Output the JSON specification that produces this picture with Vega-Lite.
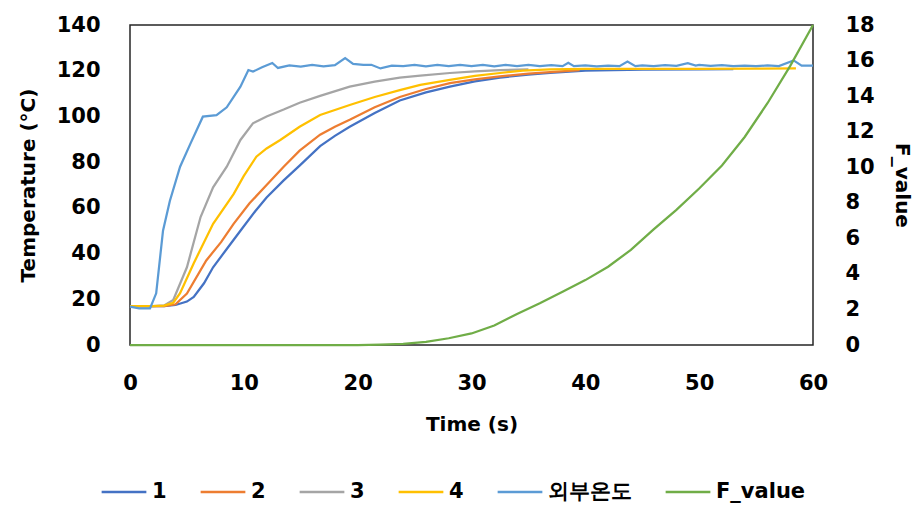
{
"$schema":"https://vega.github.io/schema/vega-lite/v6.json",
"width":683,"height":320,
"autosize":{"type":"none"},
"padding":{"left":130,"top":25,"right":106,"bottom":166},
"background":"white",
"config":{"view":{"stroke":"#262626","strokeWidth":1.5},"font":"DejaVu Sans"},
"data":{"values":[
{"t":0,"s":"1","v":17},{"t":1,"s":"1","v":17},{"t":2,"s":"1","v":17},{"t":3,"s":"1","v":17},{"t":4,"s":"1","v":17.5},{"t":5,"s":"1","v":19},{"t":5.6,"s":"1","v":21},{"t":6.5,"s":"1","v":27},{"t":7.3,"s":"1","v":34},{"t":8.5,"s":"1","v":42},{"t":9.7,"s":"1","v":50},{"t":11,"s":"1","v":58.5},{"t":12,"s":"1","v":64.5},{"t":13.5,"s":"1","v":72},{"t":14.9,"s":"1","v":78.5},{"t":16.7,"s":"1","v":87},{"t":18,"s":"1","v":91.5},{"t":19.3,"s":"1","v":95.5},{"t":21.5,"s":"1","v":101.5},{"t":23.7,"s":"1","v":107},{"t":26,"s":"1","v":110.5},{"t":28.1,"s":"1","v":113},{"t":30.3,"s":"1","v":115.3},{"t":32.5,"s":"1","v":117},{"t":35,"s":"1","v":118.3},{"t":36.9,"s":"1","v":119},{"t":40,"s":"1","v":120},{"t":45,"s":"1","v":120.5},{"t":50,"s":"1","v":120.6},{"t":53,"s":"1","v":120.7},
{"t":0,"s":"2","v":17},{"t":1,"s":"2","v":17},{"t":2,"s":"2","v":17},{"t":3,"s":"2","v":17},{"t":4,"s":"2","v":17.8},{"t":5,"s":"2","v":22.5},{"t":6.7,"s":"2","v":37},{"t":8,"s":"2","v":45},{"t":9.1,"s":"2","v":53},{"t":10.5,"s":"2","v":62},{"t":12,"s":"2","v":70},{"t":13.5,"s":"2","v":78},{"t":14.9,"s":"2","v":85},{"t":16.7,"s":"2","v":92},{"t":18,"s":"2","v":95.5},{"t":19.3,"s":"2","v":98.5},{"t":21.5,"s":"2","v":104},{"t":23.7,"s":"2","v":108.5},{"t":26,"s":"2","v":112},{"t":28.1,"s":"2","v":114.6},{"t":30.3,"s":"2","v":116.2},{"t":32.5,"s":"2","v":117.5},{"t":35,"s":"2","v":118.7},{"t":36.9,"s":"2","v":119.4},{"t":39.5,"s":"2","v":120.3},
{"t":0,"s":"3","v":17},{"t":1,"s":"3","v":17},{"t":2,"s":"3","v":17},{"t":3,"s":"3","v":17.3},{"t":3.8,"s":"3","v":19.7},{"t":5,"s":"3","v":34},{"t":6.2,"s":"3","v":56},{"t":7.3,"s":"3","v":69},{"t":8.5,"s":"3","v":78},{"t":9.7,"s":"3","v":89.7},{"t":10.8,"s":"3","v":97},{"t":12,"s":"3","v":100},{"t":13.5,"s":"3","v":103},{"t":14.9,"s":"3","v":106},{"t":16.7,"s":"3","v":109},{"t":19.3,"s":"3","v":113},{"t":21.5,"s":"3","v":115.2},{"t":23.7,"s":"3","v":117},{"t":25.5,"s":"3","v":117.8},{"t":28.1,"s":"3","v":119},{"t":30.3,"s":"3","v":119.7},{"t":32.5,"s":"3","v":120.3},{"t":35,"s":"3","v":120.6},
{"t":0,"s":"4","v":17},{"t":1,"s":"4","v":17},{"t":2,"s":"4","v":17},{"t":3,"s":"4","v":17.2},{"t":3.8,"s":"4","v":18.5},{"t":4.4,"s":"4","v":22.7},{"t":5.6,"s":"4","v":35.8},{"t":7.3,"s":"4","v":53},{"t":9.1,"s":"4","v":66},{"t":10,"s":"4","v":74},{"t":11.1,"s":"4","v":82.4},{"t":12,"s":"4","v":86},{"t":13.2,"s":"4","v":89.7},{"t":14.9,"s":"4","v":95.5},{"t":16.7,"s":"4","v":100.6},{"t":19.3,"s":"4","v":105},{"t":21.5,"s":"4","v":108.5},{"t":23.7,"s":"4","v":111.5},{"t":25.5,"s":"4","v":113.8},{"t":28.1,"s":"4","v":116},{"t":30.3,"s":"4","v":117.7},{"t":32.5,"s":"4","v":119},{"t":34.5,"s":"4","v":120},{"t":36.9,"s":"4","v":120.6},{"t":40,"s":"4","v":120.8},{"t":45,"s":"4","v":120.8},{"t":50,"s":"4","v":120.8},{"t":55,"s":"4","v":120.9},{"t":58.5,"s":"4","v":121},
{"t":0,"s":"외부온도","v":16.8},{"t":0.8,"s":"외부온도","v":16},{"t":1.76,"s":"외부온도","v":16},{"t":2.3,"s":"외부온도","v":22.6},{"t":2.9,"s":"외부온도","v":50},{"t":3.5,"s":"외부온도","v":63},{"t":4.4,"s":"외부온도","v":78},{"t":5.3,"s":"외부온도","v":88},{"t":6.4,"s":"외부온도","v":99.9},{"t":7.6,"s":"외부온도","v":100.6},{"t":8.5,"s":"외부온도","v":104},{"t":9.7,"s":"외부온도","v":113},{"t":10.4,"s":"외부온도","v":120.3},{"t":10.8,"s":"외부온도","v":119.6},{"t":11.6,"s":"외부온도","v":121.5},{"t":12.5,"s":"외부온도","v":123.4},{"t":13,"s":"외부온도","v":121.2},{"t":14,"s":"외부온도","v":122.3},{"t":15,"s":"외부온도","v":121.8},{"t":16,"s":"외부온도","v":122.5},{"t":17,"s":"외부온도","v":121.9},{"t":18,"s":"외부온도","v":122.4},{"t":18.9,"s":"외부온도","v":125.5},{"t":19.6,"s":"외부온도","v":123},{"t":20.5,"s":"외부온도","v":122.6},{"t":21.2,"s":"외부온도","v":122.6},{"t":22,"s":"외부온도","v":121},{"t":23,"s":"외부온도","v":122.2},{"t":24,"s":"외부온도","v":122},{"t":25,"s":"외부온도","v":122.6},{"t":26,"s":"외부온도","v":121.9},{"t":27,"s":"외부온도","v":122.5},{"t":28,"s":"외부온도","v":122},{"t":29,"s":"외부온도","v":122.6},{"t":30,"s":"외부온도","v":122},{"t":31,"s":"외부온도","v":122.5},{"t":32,"s":"외부온도","v":121.9},{"t":33,"s":"외부온도","v":122.5},{"t":34,"s":"외부온도","v":122},{"t":35,"s":"외부온도","v":122.5},{"t":36,"s":"외부온도","v":122},{"t":37,"s":"외부온도","v":122.4},{"t":38,"s":"외부온도","v":122},{"t":38.5,"s":"외부온도","v":123.5},{"t":39,"s":"외부온도","v":122},{"t":40,"s":"외부온도","v":122.3},{"t":41,"s":"외부온도","v":121.9},{"t":42,"s":"외부온도","v":122.2},{"t":43,"s":"외부온도","v":122},{"t":43.7,"s":"외부온도","v":124},{"t":44.4,"s":"외부온도","v":122},{"t":45,"s":"외부온도","v":122.3},{"t":46,"s":"외부온도","v":122},{"t":47,"s":"외부온도","v":122.4},{"t":48,"s":"외부온도","v":122.1},{"t":49,"s":"외부온도","v":123.3},{"t":49.7,"s":"외부온도","v":122.2},{"t":50,"s":"외부온도","v":122.5},{"t":51,"s":"외부온도","v":122.1},{"t":52,"s":"외부온도","v":122.4},{"t":53,"s":"외부온도","v":122},{"t":54,"s":"외부온도","v":122.2},{"t":55,"s":"외부온도","v":122},{"t":56,"s":"외부온도","v":122.3},{"t":57,"s":"외부온도","v":122},{"t":58.3,"s":"외부온도","v":124.5},{"t":59,"s":"외부온도","v":122.2},{"t":60,"s":"외부온도","v":122.2},
{"t":0,"s":"F_value","v":0},{"t":20,"s":"F_value","v":0},{"t":22,"s":"F_value","v":0.02},{"t":24,"s":"F_value","v":0.06},{"t":26,"s":"F_value","v":0.18},{"t":28,"s":"F_value","v":0.38},{"t":30,"s":"F_value","v":0.65},{"t":32,"s":"F_value","v":1.1},{"t":34,"s":"F_value","v":1.75},{"t":36,"s":"F_value","v":2.35},{"t":38,"s":"F_value","v":3.0},{"t":40,"s":"F_value","v":3.65},{"t":42,"s":"F_value","v":4.4},{"t":44,"s":"F_value","v":5.35},{"t":46,"s":"F_value","v":6.5},{"t":48,"s":"F_value","v":7.6},{"t":50,"s":"F_value","v":8.8},{"t":52,"s":"F_value","v":10.1},{"t":54,"s":"F_value","v":11.7},{"t":56,"s":"F_value","v":13.6},{"t":58,"s":"F_value","v":15.7},{"t":60,"s":"F_value","v":18}
]},
"encoding":{
 "x":{"field":"t","type":"quantitative","scale":{"domain":[0,60],"nice":false},
  "axis":{"title":"Time (s)","values":[0,10,20,30,40,50,60],"grid":false,"domain":false,"ticks":false,"tickSize":0,"labelPadding":27,"labelFlush":false,"labelOverlap":false,"labelFontSize":21,"labelFontWeight":"bold","labelColor":"#000","titleFontSize":20,"titleFontWeight":"bold","titleColor":"#000","titlePadding":21}},
 "color":{"field":"s","type":"nominal",
  "scale":{"domain":["1","2","3","4","외부온도","F_value"],"range":["#4472C4","#ED7D31","#A5A5A5","#FFC000","#5B9BD5","#70AD47"]},
  "legend":{"orient":"none","legendX":-30,"legendY":443,"direction":"horizontal","title":null,"symbolType":"stroke","symbolSize":2000,"symbolStrokeWidth":2.5,"labelFontSize":21,"labelFontWeight":"bold","labelColor":"#000","columnPadding":28,"labelOffset":4}}
},
"layer":[
 {"transform":[{"filter":"datum.s !== 'F_value'"}],
  "mark":{"type":"line","strokeWidth":2.25},
  "encoding":{"y":{"field":"v","type":"quantitative","scale":{"domain":[0,140],"nice":false},
   "axis":{"title":"Temperature (°C)","values":[0,20,40,60,80,100,120,140],"grid":false,"domain":false,"ticks":false,"tickSize":0,"labelPadding":30,"labelFlush":false,"labelOverlap":false,"labelFontSize":21,"labelFontWeight":"bold","labelColor":"#000","titleFontSize":20,"titleFontWeight":"bold","titleColor":"#000","titlePadding":18}}}},
 {"transform":[{"filter":"datum.s === 'F_value'"}],
  "mark":{"type":"line","strokeWidth":2.25},
  "encoding":{"y":{"field":"v","type":"quantitative","scale":{"domain":[0,18],"nice":false},
   "axis":{"orient":"right","title":"F_value","values":[0,2,4,6,8,10,12,14,16,18],"grid":false,"domain":false,"ticks":false,"tickSize":0,"labelPadding":32,"labelFlush":false,"labelOverlap":false,"labelFontSize":21,"labelFontWeight":"bold","labelColor":"#000","titleFontSize":20,"titleFontWeight":"bold","titleColor":"#000","titlePadding":17}}}}
],
"resolve":{"scale":{"y":"independent"}}
}
